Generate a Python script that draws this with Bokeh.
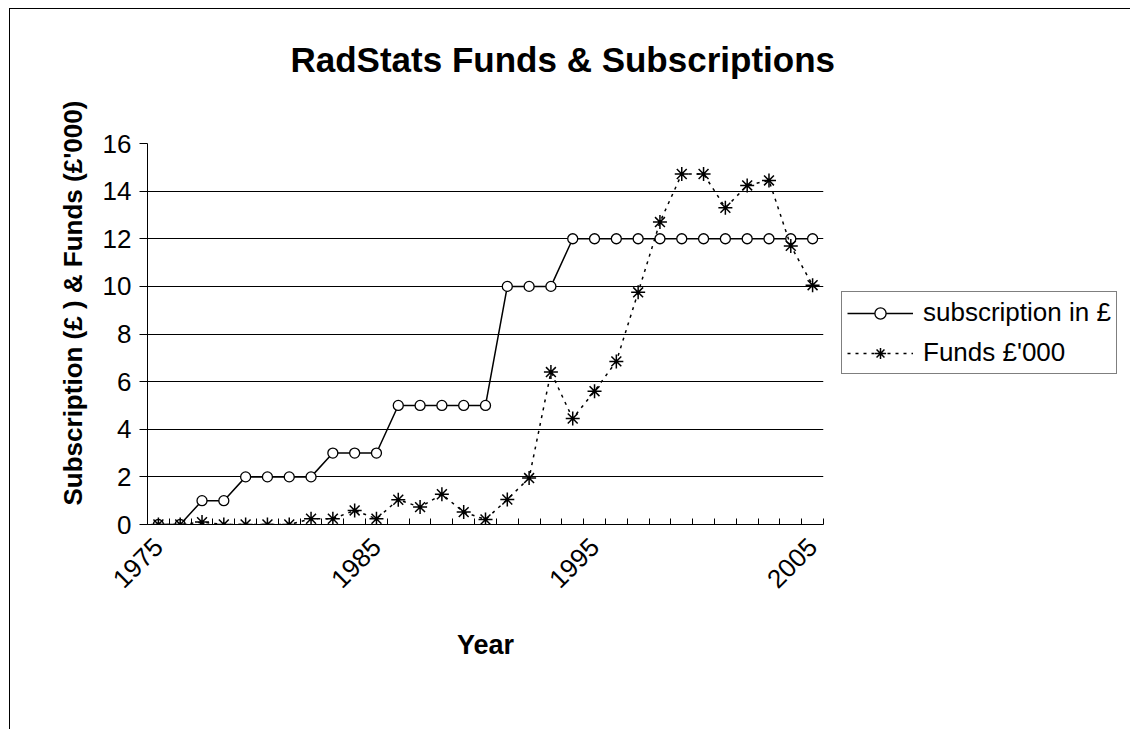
import math
from bokeh.plotting import figure
from bokeh.models import (FixedTicker, Legend, LegendItem, Title, Range1d, LinearAxis,
                          CustomJSTickFormatter)
from bokeh.embed import file_html
from bokeh.resources import INLINE

years = list(range(1975, 2006))
subscription = [0, 0, 1, 1, 2, 2, 2, 2, 3, 3, 3, 5, 5, 5, 5, 5,
                10, 10, 10, 12, 12, 12, 12, 12, 12, 12, 12, 12, 12, 12, 12]
funds = [0, 0, 0.1, 0, 0, 0, 0, 0.24, 0.24, 0.59, 0.24, 1.04, 0.73, 1.27, 0.52, 0.21,
         1.05, 1.95, 6.4, 4.45, 5.6, 6.85, 9.75, 12.7, 14.72, 14.72, 13.3, 14.24, 14.45, 11.7, 10.05]
year_labels = [1975, 1985, 1995, 2005]
y_ticks = [0, 2, 4, 6, 8, 10, 12, 14, 16]

FONT = "Liberation Sans"

p = figure(frame_width=676, frame_height=381, output_backend="svg", toolbar_location=None,
           x_range=Range1d(1974.5, 2005.5), y_range=Range1d(0, 16),
           min_border_left=137, min_border_right=300, min_border_top=134, min_border_bottom=205,
           background_fill_color="white", border_fill_color="white")
p.margin = (8, 0, 0, 9)
p.styles = {"border-left": "1px solid black", "border-top": "1px solid black"}
p.outline_line_color = None

p.title = Title(text="RadStats Funds & Subscriptions", align="left", offset=143,
                text_font=FONT, text_font_size="35px", text_font_style="bold",
                text_color="black", standoff=57)

# invisible spacer between title and plot area (no line, no visible tick, empty label)
spacer = LinearAxis(ticker=FixedTicker(ticks=[1990]), axis_line_color=None,
                    formatter=CustomJSTickFormatter(code="return ''"),
                    major_tick_out=36, major_tick_in=0, minor_tick_out=0, minor_tick_in=0,
                    major_tick_line_color=None, minor_tick_line_color=None,
                    major_label_standoff=0, major_label_text_font_size="1px")
p.add_layout(spacer, "above")

# x axis
xa = p.below[0]
xa.ticker = FixedTicker(ticks=year_labels, minor_ticks=[y - 0.5 for y in years] + [years[-1] + 0.5])
xa.major_tick_in = 0
xa.major_tick_out = 0
xa.minor_tick_in = 6
xa.minor_tick_out = 0
xa.minor_tick_line_color = "black"
xa.major_label_orientation = math.pi / 4
xa.major_label_text_font = FONT
xa.major_label_text_font_size = "26px"
xa.major_label_text_color = "black"
xa.major_label_standoff = 18
xa.axis_label = "Year"
xa.axis_label_text_font = FONT
xa.axis_label_text_font_size = "27px"
xa.axis_label_text_font_style = "bold"
xa.axis_label_text_color = "black"
xa.axis_label_standoff = 31
xa.axis_line_color = "black"

# y axis
ya = p.left[0]
ya.ticker = FixedTicker(ticks=y_ticks)
ya.major_tick_in = 0
ya.major_tick_out = 8
ya.minor_tick_in = 0
ya.minor_tick_out = 0
ya.major_label_text_font = FONT
ya.major_label_text_font_size = "26px"
ya.major_label_text_color = "black"
ya.major_label_standoff = 8
ya.axis_line_color = "black"
ya.major_tick_line_color = "black"

p.xgrid.visible = False
p.ygrid.ticker = FixedTicker(ticks=y_ticks)
p.ygrid.grid_line_color = "black"
p.ygrid.grid_line_width = 1

r1 = p.line(years, subscription, line_color="black", line_width=1.5)
s1 = p.scatter(years, subscription, marker="circle", size=10, fill_color="white",
               line_color="black", line_width=1.3)
r2 = p.line(years, funds, line_color="black", line_width=1.5, line_dash="3 5")
s2 = p.scatter(years, funds, marker="asterisk", size=14, line_color="black", line_width=1.5)

legend = Legend(items=[LegendItem(label="subscription in £", renderers=[r1, s1]),
                       LegendItem(label="Funds £'000", renderers=[r2, s2])],
                location=(18, 150), border_line_color="black", border_line_width=1,
                background_fill_color="white", background_fill_alpha=1,
                label_text_font=FONT, label_text_font_size="26px", label_text_color="black",
                label_height=28, glyph_width=66, glyph_height=28, label_standoff=10,
                padding=5, spacing=9, margin=0)
p.add_layout(legend, "right")

ylab = Title(text="Subscription (£ ) & Funds (£'000)", align="left", offset=19,
             text_font=FONT, text_font_size="26px", text_font_style="bold", text_color="black",
             standoff=23)
p.add_layout(ylab, "left")

open("out.html", "w").write(file_html(p, INLINE))
